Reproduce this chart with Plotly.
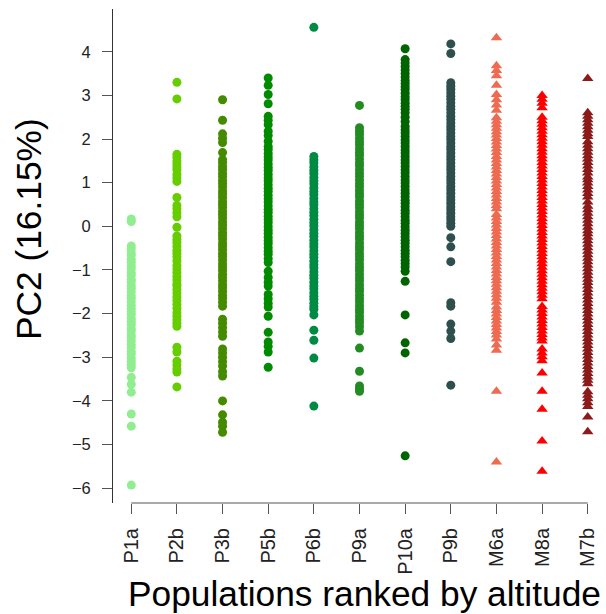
import plotly.graph_objects as go

# Populations, ordered by altitude of origin
populations = ["P1a", "P2b", "P3b", "P5b", "P6b", "P9a", "P10a", "P9b", "M6a", "M8a", "M7b"]
colors = ["#90EE90", "#66CD00", "#458B00", "#008B00", "#008B45", "#228B22",
          "#006400", "#2F4F4F", "#EE6A50", "#FF0000", "#8B1A1A"]
symbols = ["circle"] * 8 + ["triangle-up"] * 3

# PC2 scores per population
pc2_p1a = [0.17, 0.11, -0.45, -0.52, -0.61, -0.67, -0.76, -0.83, -0.91, -0.97, -1.06, -1.12,
           -1.21, -1.27, -1.36, -1.42, -1.5, -1.59, -1.65, -1.73, -1.81, -1.88, -1.96, -2.02,
           -2.11, -2.18, -2.25, -2.34, -2.4, -2.49, -2.55, -2.63, -2.71, -2.78, -2.87, -2.93,
           -3.02, -3.09, -3.17, -3.24, -3.46, -3.62, -3.8, -4.3, -4.58, -5.93]
pc2_p2b = [3.30, 2.92, 1.65, 1.58, 1.5, 1.43, 1.36, 1.3, 1.19, 1.11, 1.03, 0.66, 0.48, 0.4,
           0.31, 0.22, -0.02, -0.22, -0.3, -0.37, -0.46, -0.55, -0.62, -0.7, -0.79, -0.9,
           -0.98, -1.06, -1.15, -1.23, -1.32, -1.37, -1.45, -1.53, -1.62, -1.7, -1.79, -1.88,
           -1.98, -2.06, -2.14, -2.22, -2.29, -2.77, -2.88, -3.09, -3.18, -3.27, -3.34, -3.68]
pc2_p3b = [2.9, 2.43, 2.12, 2.02, 1.92, 1.69, 1.53, 1.46, 1.37, 1.3, 1.21, 1.14, 1.05, 0.98,
           0.9, 0.81, 0.74, 0.66, 0.57, 0.5, 0.43, 0.34, 0.27, 0.19, 0.1, 0.03, -0.05, -0.14,
           -0.21, -0.29, -0.38, -0.45, -0.53, -0.62, -0.69, -0.77, -0.86, -0.93, -1.01, -1.1,
           -1.17, -1.25, -1.34, -1.41, -1.49, -1.58, -1.65, -1.74, -1.83, -2.13, -2.22, -2.32,
           -2.42, -2.52, -2.81, -2.9, -3.0, -3.1, -3.2, -3.33, -3.43, -4.0, -4.32, -4.49,
           -4.58, -4.72]
pc2_p5b = [3.4, 3.23, 3.02, 2.81, 2.52, 2.43, 2.33, 2.18, 2.08, 1.95, 1.83, 1.76, 1.67, 1.59,
           1.52, 1.43, 1.35, 1.28, 1.19, 1.11, 1.04, 0.95, 0.87, 0.8, 0.71, 0.63, 0.56, 0.47,
           0.39, 0.32, 0.23, 0.15, 0.08, -0.01, -0.09, -0.16, -0.25, -0.33, -0.4, -0.49,
           -0.57, -0.64, -0.74, -0.83, -1.03, -1.17, -1.28, -1.37, -1.56, -1.66, -1.76, -1.85,
           -2.06, -2.43, -2.65, -2.75, -2.88, -3.23]
pc2_p6b = [4.56, 1.6, 1.52, 1.45, 1.36, 1.28, 1.21, 1.12, 1.04, 0.97, 0.88, 0.8, 0.73, 0.64,
           0.56, 0.49, 0.4, 0.32, 0.25, 0.16, 0.08, 0.01, -0.08, -0.16, -0.23, -0.32, -0.4,
           -0.47, -0.56, -0.64, -0.71, -0.8, -0.88, -0.95, -1.04, -1.12, -1.19, -1.28, -1.36,
           -1.43, -1.52, -1.6, -1.67, -1.76, -1.84, -1.9, -2.03, -2.38, -2.61, -3.02, -4.12]
pc2_p9a = [2.77, 2.26, 2.18, 2.11, 2.02, 1.94, 1.87, 1.78, 1.7, 1.63, 1.54, 1.46, 1.39, 1.3,
           1.22, 1.15, 1.06, 0.98, 0.91, 0.82, 0.74, 0.67, 0.58, 0.5, 0.43, 0.34, 0.26, 0.19,
           0.1, 0.02, -0.05, -0.14, -0.22, -0.29, -0.38, -0.46, -0.53, -0.62, -0.7, -0.77,
           -0.86, -0.94, -1.01, -1.1, -1.18, -1.25, -1.34, -1.42, -1.49, -1.58, -1.66, -1.73,
           -1.82, -1.9, -1.97, -2.06, -2.14, -2.21, -2.3, -2.4, -2.79, -3.32, -3.66, -3.72, -3.78]
pc2_p10a = [4.07, 3.82, 3.74, 3.66, 3.58, 3.5, 3.42, 3.34, 3.27, 3.2, 3.13, 3.05, 2.97, 2.9,
            2.82, 2.75, 2.68, 2.6, 2.5, 2.4, 2.29, 2.21, 2.14, 2.06, 1.98, 1.91, 1.83, 1.75,
            1.68, 1.6, 1.52, 1.45, 1.37, 1.29, 1.22, 1.14, 1.06, 0.99, 0.91, 0.83, 0.76, 0.68,
            0.6, 0.53, 0.45, 0.37, 0.3, 0.22, 0.14, 0.07, -0.01, -0.09, -0.16, -0.24, -0.32,
            -0.39, -0.47, -0.55, -0.62, -0.7, -0.78, -0.85, -0.93, -1.03, -1.26, -2.03, -2.67,
            -2.9, -5.26]
pc2_p9b = [4.18, 3.96, 3.29, 3.21, 3.14, 3.06, 2.98, 2.91, 2.83, 2.75, 2.68, 2.6, 2.52, 2.45,
           2.37, 2.29, 2.22, 2.14, 2.06, 1.99, 1.91, 1.83, 1.76, 1.68, 1.6, 1.53, 1.45, 1.37,
           1.3, 1.22, 1.14, 1.07, 0.99, 0.91, 0.84, 0.76, 0.68, 0.61, 0.53, 0.45, 0.38, 0.3,
           0.22, 0.15, 0.07, 0.0, -0.26, -0.47, -0.81, -1.75, -1.83, -2.24, -2.4, -2.57, -3.64]
pc2_m6a = [4.32, 3.68, 3.57, 3.45, 3.23, 3.02, 2.9, 2.78, 2.66, 2.49, 2.41, 2.33, 2.25, 2.17,
           2.09, 2.01, 1.93, 1.85, 1.77, 1.69, 1.6, 1.52, 1.44, 1.36, 1.28, 1.2, 1.12, 1.04,
           0.96, 0.88, 0.8, 0.72, 0.64, 0.56, 0.48, 0.4, 0.27, 0.19, 0.11, 0.03, -0.05, -0.13,
           -0.21, -0.29, -0.37, -0.45, -0.53, -0.61, -0.69, -0.77, -0.85, -0.93, -1.01, -1.09,
           -1.17, -1.25, -1.33, -1.41, -1.49, -1.57, -1.65, -1.74, -1.85, -1.93, -2.01, -2.09,
           -2.17, -2.25, -2.33, -2.41, -2.49, -2.58, -2.72, -2.84, -3.78, -5.4]
pc2_m8a = [3.0, 2.91, 2.82, 2.72, 2.5, 2.42, 2.34, 2.26, 2.18, 2.1, 2.02, 1.94, 1.86, 1.78,
           1.7, 1.62, 1.54, 1.46, 1.38, 1.3, 1.22, 1.14, 1.06, 0.98, 0.9, 0.82, 0.74, 0.66,
           0.58, 0.5, 0.42, 0.34, 0.26, 0.18, 0.1, 0.02, -0.06, -0.14, -0.22, -0.3, -0.38,
           -0.46, -0.54, -0.62, -0.7, -0.78, -0.86, -0.94, -1.02, -1.1, -1.18, -1.26, -1.34,
           -1.42, -1.5, -1.58, -1.66, -1.84, -1.92, -2.0, -2.08, -2.16, -2.24, -2.32, -2.4,
           -2.48, -2.56, -2.63, -2.81, -2.9, -2.99, -3.08, -3.36, -3.78, -4.19, -4.92, -5.61]
pc2_m7b = [3.39, 2.6, 2.52, 2.44, 2.36, 2.28, 2.2, 2.12, 2.06, 1.94, 1.86, 1.78, 1.7, 1.62,
           1.54, 1.46, 1.38, 1.3, 1.22, 1.13, 1.07, 0.99, 0.91, 0.83, 0.75, 0.67, 0.56, 0.46,
           0.38, 0.3, 0.22, 0.14, 0.06, -0.02, -0.1, -0.17, -0.25, -0.33, -0.41, -0.49, -0.57,
           -0.65, -0.73, -0.81, -0.89, -0.97, -1.05, -1.13, -1.21, -1.29, -1.37, -1.45, -1.53,
           -1.61, -1.69, -1.77, -1.85, -1.93, -2.01, -2.09, -2.17, -2.25, -2.33, -2.41, -2.49,
           -2.57, -2.65, -2.73, -2.81, -2.89, -2.97, -3.05, -3.13, -3.21, -3.29, -3.37, -3.45,
           -3.53, -3.61, -3.79, -3.87, -3.95, -4.04, -4.13, -4.37, -4.71]

scores = [pc2_p1a, pc2_p2b, pc2_p3b, pc2_p5b, pc2_p6b, pc2_p9a,
          pc2_p10a, pc2_p9b, pc2_m6a, pc2_m8a, pc2_m7b]
y_ticks = [-6, -5, -4, -3, -2, -1, 0, 1, 2, 3, 4]

FONT = "Liberation Sans, Arial, sans-serif"

fig = go.Figure()
for i, (name, vals) in enumerate(zip(populations, scores)):
    tri = symbols[i] == "triangle-up"
    fig.add_trace(go.Scatter(
        x=[i + 1] * len(vals), y=vals, mode="markers", name=name,
        marker=dict(color=colors[i], symbol=symbols[i], size=10 if tri else 9,
                    line=dict(width=0)),
        showlegend=False,
    ))

# bottom axis line spans only first to last category, as in base R graphics
fig.add_shape(type="line", xref="x", yref="paper", x0=1, x1=len(populations),
              y0=0, y1=0, line=dict(color="#555555", width=1))

fig.update_layout(
    width=606, height=614,
    margin=dict(l=113, r=0, t=9, b=111),
    paper_bgcolor="white", plot_bgcolor="white",
    font=dict(family=FONT, color="#222222"),
    xaxis=dict(range=[0.6, 11.4], tickmode="array",
               tickvals=list(range(1, len(populations) + 1)), ticktext=populations,
               tickangle=-90, ticks="outside", ticklen=10, tickcolor="#555555",
               ticklabelstandoff=6,
               tickfont=dict(size=20, family=FONT, color="#222222"),
               showline=False, showgrid=False, zeroline=False),
    yaxis=dict(range=[-6.34, 4.98], tickmode="array", tickvals=y_ticks,
               ticks="outside", ticklen=10, tickcolor="#555555",
               ticklabelstandoff=8,
               tickfont=dict(size=16.5, family=FONT, color="#222222"),
               showline=True, linecolor="#333333", linewidth=1,
               showgrid=False, zeroline=False),
    annotations=[
        dict(text="PC2 (16.15%)", xref="paper", yref="paper",
             x=(28 - 113) / 493, y=(503 - 229) / 494, xanchor="center", yanchor="middle",
             textangle=-90, showarrow=False,
             font=dict(size=35.3, family=FONT, color="#000000")),
        dict(text="Populations ranked by altitude", xref="paper", yref="paper",
             x=(364 - 113) / 493, y=(503 - 593) / 494, xanchor="center", yanchor="middle",
             showarrow=False,
             font=dict(size=35.3, family=FONT, color="#000000")),
    ],
)

fig.write_html("out.html")
